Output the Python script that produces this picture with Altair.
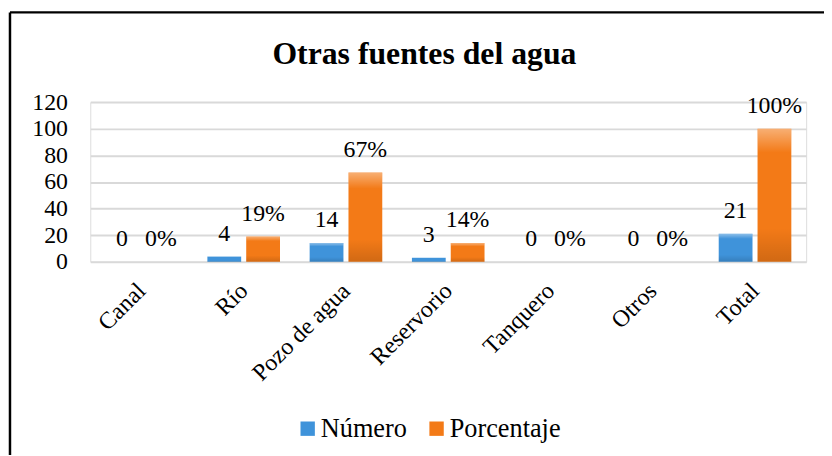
import altair as alt
import pandas as pd

categorias = ["Canal", "Río", "Pozo de agua", "Reservorio", "Tanquero", "Otros", "Total"]
numero = [0, 4, 14, 3, 0, 0, 21]
porcentaje = [0, 19, 67, 14, 0, 0, 100]
series = ["Número", "Porcentaje"]
colores = ["#3f93da", "#f37a17"]
y_ticks = [0, 20, 40, 60, 80, 100, 120]

rows = []
for c, n, p in zip(categorias, numero, porcentaje):
    rows.append({"cat": c, "serie": series[0], "valor": n, "label": f"{n}"})
    rows.append({"cat": c, "serie": series[1], "valor": p, "label": f"{p}%"})
df = pd.DataFrame(rows)

FONT = "Liberation Serif"
W, H = 722, 161

base = alt.Chart(df).encode(
    x=alt.X("cat:N", sort=categorias,
            scale=alt.Scale(paddingInner=0.29, paddingOuter=0.145),
            axis=alt.Axis(title=None, labelAngle=-45, labelFont=FONT, labelFontSize=24,
                          labelColor="#000000", ticks=False, domain=False,
                          labelPadding=17, labelOffset=-8)),
    xOffset=alt.XOffset("serie:N", sort=series,
                        scale=alt.Scale(paddingInner=0.13, paddingOuter=0)),
    y=alt.Y("valor:Q", scale=alt.Scale(domain=[0, 120], nice=False),
            axis=alt.Axis(title=None, values=y_ticks, labelFont=FONT, labelFontSize=24,
                          labelColor="#000000", ticks=False, domain=False, labelPadding=23,
                          grid=True, gridColor="#d9d9d9", gridWidth=2)),
)

bars = base.mark_bar(strokeWidth=0).encode(
    color=alt.Color("serie:N", sort=series,
                    scale=alt.Scale(domain=series, range=colores),
                    legend=alt.Legend(title=None, orient="none", direction="horizontal",
                                      legendX=206, legendY=316, symbolType="square",
                                      symbolSize=210, symbolStrokeWidth=0,
                                      labelFont=FONT, labelFontSize=26.5, labelColor="#000000",
                                      labelOffset=0, columnPadding=16)),
)

bevel = base.mark_bar(
    strokeWidth=0,
    color=alt.LinearGradient(
        gradient="linear", x1=0, x2=0, y1=0, y2=1,
        stops=[alt.GradientStop(color="rgba(255,255,255,0.40)", offset=0),
               alt.GradientStop(color="rgba(255,255,255,0.0)", offset=0.18),
               alt.GradientStop(color="rgba(0,0,0,0.0)", offset=0.75),
               alt.GradientStop(color="rgba(0,0,0,0.14)", offset=1)]),
)

labels = base.mark_text(baseline="alphabetic", dy=-16, font=FONT, fontSize=24,
                        color="#000000").encode(text="label:N")

one = pd.DataFrame({"k": [0]})
border_top = alt.Chart(one).mark_rule(color="#000000", strokeWidth=2.5).encode(
    x=alt.value(-81), x2=alt.value(W + 18), y=alt.value(-90.5))
border_left = alt.Chart(one).mark_rule(color="#000000", strokeWidth=2.5).encode(
    x=alt.value(-81), y=alt.value(-90.5), y2=alt.value(H + 200))

chart = alt.layer(bars, bevel, labels, border_top, border_left).properties(
    width=W, height=H,
    title=alt.Title("Otras fuentes del agua", font=FONT, fontSize=32, fontWeight="bold",
                    color="#000000", anchor="middle", baseline="alphabetic",
                    dx=-24, offset=0, dy=85),
    autosize=alt.AutoSizeParams(type="none"),
    padding={"left": 83, "top": 93, "right": 18, "bottom": 193},
).configure_view(stroke=None).configure(background="#ffffff", font=FONT)

chart.save("out.html", embed_options={"renderer": "svg", "actions": False})
